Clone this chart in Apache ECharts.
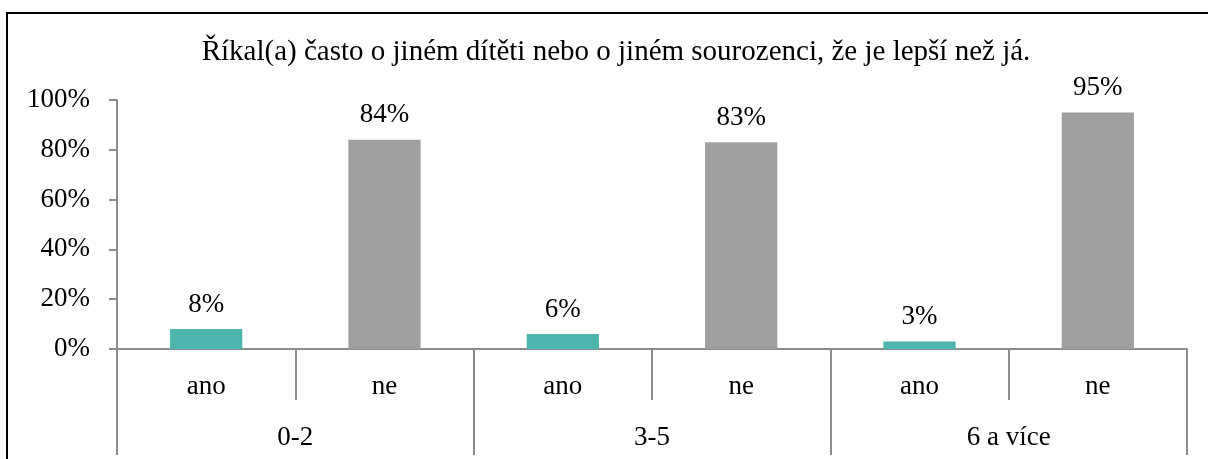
<!DOCTYPE html>
<html>
<head>
<meta charset="utf-8">
<script src="https://cdn.jsdelivr.net/npm/echarts@6/dist/echarts.min.js"></script>
<style>
html,body{margin:0;padding:0;background:#fff;}
#c{width:1208px;height:459px;}
</style>
</head>
<body>
<div id="c"></div>
<script>
const titleText = 'Říkal(a) často o jiném dítěti nebo o jiném sourozenci, že je lepší než já.';
const groups = ['0-2', '3-5', '6 a více'];
const answers = ['ano', 'ne'];
const innerCategories = ['ano', 'ne', 'ano', 'ne', 'ano', 'ne'];
const anoValues = [8, 6, 3];
const neValues = [84, 83, 95];
const yTicks = [0, 20, 40, 60, 80, 100];

const colors = {ano: '#4db6ac', ne: '#9f9f9f'};
const font = 'Liberation Serif, Times New Roman, serif';

const barData = [];
groups.forEach((g, i) => {
  barData.push({value: anoValues[i], itemStyle: {color: colors.ano}});
  barData.push({value: neValues[i], itemStyle: {color: colors.ne}});
});

const chart = echarts.init(document.getElementById('c'), null, {renderer: 'canvas'});
const axisColor = '#8c8c8c';
chart.setOption({
  animation: false,
  backgroundColor: '#fff',
  textStyle: {fontFamily: font},
  graphic: [{
    type: 'rect',
    shape: {x: 7, y: 13, width: 1300, height: 600},
    style: {fill: 'none', stroke: '#000', lineWidth: 2},
    silent: true
  }],
  title: {
    text: titleText,
    left: 611,
    textAlign: 'center',
    top: 33,
    textStyle: {fontFamily: font, fontSize: 29, fontWeight: 'normal', color: '#000'}
  },
  grid: {left: 117, right: 21, top: 100, bottom: 110, containLabel: false},
  xAxis: [{
    type: 'category',
    data: innerCategories,
    position: 'bottom',
    axisLine: {show: true, lineStyle: {color: axisColor, width: 2}},
    axisTick: {show: true, alignWithLabel: false, length: 51, lineStyle: {color: axisColor, width: 2}},
    axisLabel: {fontFamily: font, fontSize: 27, color: '#000', margin: 24}
  }, {
    type: 'category',
    data: groups,
    position: 'bottom',
    axisLine: {show: false},
    axisTick: {show: true, length: 106, lineStyle: {color: axisColor, width: 2}},
    axisLabel: {fontFamily: font, fontSize: 27, color: '#000', margin: 75}
  }],
  yAxis: {
    type: 'value',
    min: 0, max: 100, interval: 20,
    axisLine: {show: true, lineStyle: {color: axisColor, width: 2}},
    axisTick: {show: true, inside: false, length: 8, lineStyle: {color: axisColor, width: 2}},
    splitLine: {show: false},
    axisLabel: {fontFamily: font, fontSize: 27, color: '#000', margin: 27,
      formatter: v => yTicks.includes(v) ? v + '%' : ''}
  },
  series: [{
    type: 'bar',
    xAxisIndex: 0,
    data: barData,
    barWidth: '40.5%',
    label: {show: true, position: 'top', distance: 11, fontFamily: font, fontSize: 27, color: '#000',
      formatter: p => p.value + '%'}
  }]
});
</script>
</body>
</html>
